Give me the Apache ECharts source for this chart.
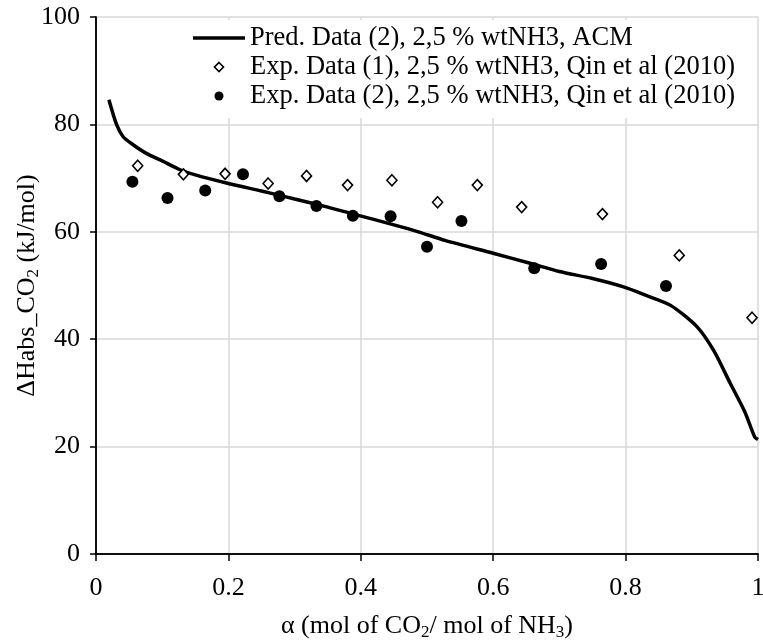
<!DOCTYPE html>
<html>
<head>
<meta charset="utf-8">
<script src="https://cdn.jsdelivr.net/npm/echarts@6/dist/echarts.min.js"></script>
<style>html,body{margin:0;padding:0;background:#fff}#c{width:763px;height:644px}</style>
</head>
<body>
<div id="c"></div>
<script>
var predX = [0.0195,0.031,0.041,0.055,0.076,0.1,0.126,0.15,0.2,0.25,0.277,0.3,0.35,0.389,0.45,0.487,0.527,0.6,0.657,0.7,0.75,0.798,0.83,0.868,0.908,0.933,0.958,0.98,0.995,1.0];
var predY = [84.6,80.0,77.7,76.3,74.6,73.2,71.6,70.6,69.0,67.6,66.8,66.1,64.6,63.3,61.3,60.0,58.4,56.0,54.1,52.6,51.3,49.7,48.2,46.3,42.3,37.9,31.8,26.5,21.8,21.3];
var exp1X = [0.063,0.132,0.195,0.260,0.318,0.380,0.447,0.516,0.576,0.643,0.765,0.881,0.991];
var exp1Y = [72.3,70.7,70.8,69.0,70.4,68.7,69.6,65.5,68.7,64.6,63.3,55.6,44.0];
var exp2X = [0.055,0.108,0.165,0.222,0.277,0.333,0.388,0.445,0.500,0.552,0.662,0.763,0.861];
var exp2Y = [69.3,66.3,67.7,70.7,66.6,64.8,63.0,62.9,57.2,62.0,53.2,54.0,49.9];
var seriesNames = ['Pred. Data (2), 2,5 % wtNH3, ACM','Exp. Data (1), 2,5 % wtNH3, Qin et al (2010)','Exp. Data (2), 2,5 % wtNH3, Qin et al (2010)'];
var xTicks = {min:0, max:1, interval:0.2};
var yTicks = {min:0, max:100, interval:20};

function zip(a,b){return a.map(function(v,i){return [v,b[i]];});}
var FONT = "'Liberation Serif','Times New Roman',serif";
var BLACK_LINE = {lineStyle:{color:'#000',width:1.5}};
var chart = echarts.init(document.getElementById('c'), null, {renderer:'canvas'});
chart.setOption({
  animation:false,
  backgroundColor:'#fff',
  textStyle:{fontFamily:FONT},
  grid:{left:96,right:5,top:17,bottom:90,outerBoundsMode:'none',containLabel:false},
  legend:{
    orient:'vertical', left:187, top:20,
    backgroundColor:'#fff', padding:[4,10,8,6],
    itemWidth:52, itemHeight:9, itemGap:1,
    textStyle:{fontFamily:FONT,fontSize:26.5,color:'#000',lineHeight:28},
    data:[
      {name:seriesNames[0], icon:'path://M0,0H52V3.5H0Z'},
      {name:seriesNames[1], icon:'path://M5,0L10,5L5,10L0,5Z', itemStyle:{color:'#fff',borderColor:'#000',borderWidth:1.6}},
      {name:seriesNames[2], icon:'circle'}
    ]
  },
  xAxis:[{
    type:'value', min:xTicks.min, max:xTicks.max, interval:xTicks.interval,
    name:'{n|α (mol of CO}{s|2}{n|/ mol of NH}{s|3}{n|)}',
    nameLocation:'middle', nameGap:57, nameMoveOverlap:false,
    nameTextStyle:{rich:{
      n:{fontFamily:FONT,fontSize:26,color:'#000',lineHeight:30},
      s:{fontFamily:FONT,fontSize:17,color:'#000',lineHeight:30,padding:[14,0,0,0]}
    }},
    axisLine:BLACK_LINE,
    axisTick:{show:true,inside:false,length:7,lineStyle:{color:'#000',width:1.5}},
    axisLabel:{fontFamily:FONT,fontSize:26,color:'#000',margin:21,
      formatter:function(v){return (v===0||v===1)?String(v):v.toFixed(1);}},
    splitLine:{show:true,lineStyle:{color:'#d9d9d9',width:1.5}}
  },{
    type:'value', position:'top', min:xTicks.min, max:xTicks.max, interval:xTicks.interval,
    axisLine:{show:true,lineStyle:{color:'#000',width:1.5}}, axisTick:{show:false}, axisLabel:{show:false}, splitLine:{show:false}
  }],
  yAxis:[{
    type:'value', min:yTicks.min, max:yTicks.max, interval:yTicks.interval,
    name:'{n|ΔHabs_CO}{s|2}{n| (kJ/mol)}',
    nameLocation:'middle', nameGap:54, nameRotate:90, nameMoveOverlap:false,
    nameTextStyle:{rich:{
      n:{fontFamily:FONT,fontSize:26,color:'#000',lineHeight:30},
      s:{fontFamily:FONT,fontSize:17,color:'#000',lineHeight:30,padding:[14,0,0,0]}
    }},
    axisLine:BLACK_LINE,
    axisTick:{show:true,inside:false,length:6,lineStyle:{color:'#000',width:1.5}},
    axisLabel:{fontFamily:FONT,fontSize:26,color:'#000',margin:16},
    splitLine:{show:true,lineStyle:{color:'#d9d9d9',width:1.5}}
  },{
    type:'value', position:'right', min:yTicks.min, max:yTicks.max, interval:yTicks.interval,
    axisLine:{show:true,lineStyle:{color:'#000',width:1.5}}, axisTick:{show:false}, axisLabel:{show:false}, splitLine:{show:false}
  }],
  series:[
    {name:seriesNames[0], type:'line', data:zip(predX,predY), showSymbol:false, symbol:'none', smooth:0.25,
     lineStyle:{color:'#000',width:3.5}, itemStyle:{color:'#000'}, z:3},
    {name:seriesNames[1], type:'scatter', data:zip(exp1X,exp1Y), symbol:'diamond', symbolSize:[10,11],
     itemStyle:{color:'#fff',borderColor:'#000',borderWidth:1.6,opacity:1}, z:4},
    {name:seriesNames[2], type:'scatter', data:zip(exp2X,exp2Y), symbol:'circle', symbolSize:12,
     itemStyle:{color:'#000',opacity:1}, z:4}
  ]
});
</script>
</body>
</html>
